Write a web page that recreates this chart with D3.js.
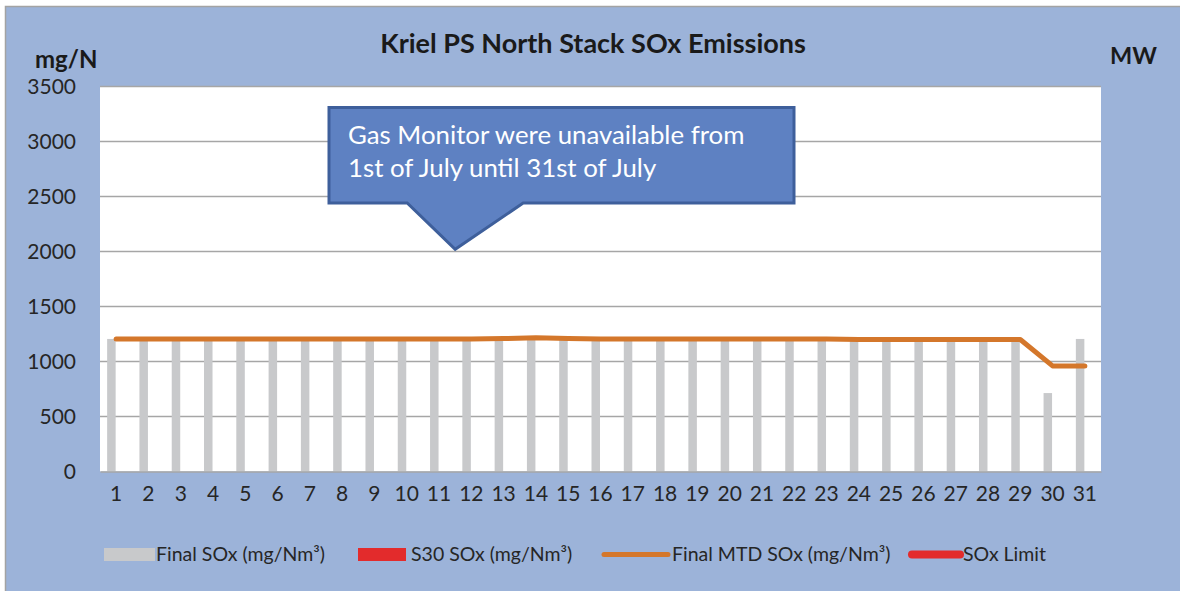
<!DOCTYPE html>
<html>
<head>
<meta charset="utf-8">
<script src="https://cdn.jsdelivr.net/npm/d3@7"></script>
<style>
  body { margin: 0; background: #fff; }
  svg { display: block; font-family: Lato, "Open Sans", sans-serif; }
</style>
</head>
<body>
<svg id="chart" width="1180" height="591"></svg>
<script>
// chart data
var days = d3.range(1, 32).map(String);
var finalSox = [1205, 1195, 1195, 1195, 1195, 1195, 1195, 1195, 1195, 1195,
                1195, 1195, 1195, 1195, 1195, 1195, 1195, 1195, 1195, 1195,
                1195, 1195, 1195, 1195, 1195, 1195, 1195, 1195, 1195, 713, 1205];
var s30Sox = days.map(function () { return null; });   // no S30 values shown
var mtdSox = [1205, 1205, 1205, 1205, 1205, 1205, 1205, 1205, 1205, 1205,
              1205, 1205, 1208, 1215, 1208, 1205, 1205, 1205, 1205, 1205,
              1205, 1205, 1205, 1200, 1200, 1200, 1200, 1200, 1200, 960, 960];
var yTicks = [0, 500, 1000, 1500, 2000, 2500, 3000, 3500];
var legendLabels = ["Final SOx (mg/Nm\u00b3)", "S30 SOx (mg/Nm\u00b3)", "Final MTD SOx (mg/Nm\u00b3)", "SOx Limit"];
var noteLines = ["Gas Monitor were unavailable from", "1st of July until 31st of July"];

var svg = d3.select("#chart");

// set the dimensions of the plot area
var plot = {left: 100, right: 1101, top: 86.5, bottom: 471.5};

var x = d3.scaleBand()
  .domain(days)
  .range([plot.left, plot.right])
  .padding(0);

var y = d3.scaleLinear()
  .domain([0, 3500])
  .range([plot.bottom, plot.top]);

// outer panel
svg.append("rect")
  .attr("x", 5.5).attr("y", 6.5)
  .attr("width", 1180).attr("height", 590)
  .attr("fill", "#9cb3d9")
  .attr("stroke", "#a3a3a3")
  .attr("stroke-width", 1.5);

// white plot area
svg.append("rect")
  .attr("x", plot.left).attr("y", y(3500))
  .attr("width", plot.right - plot.left)
  .attr("height", y(0) - y(3500))
  .attr("fill", "#fff");

// grid lines
svg.append("g")
  .selectAll("line")
  .data(yTicks.slice(1))
  .enter()
  .append("line")
  .attr("x1", plot.left).attr("x2", plot.right)
  .attr("y1", function (d) { return y(d); })
  .attr("y2", function (d) { return y(d); })
  .attr("stroke", "#a6a6a6")
  .attr("stroke-width", 1.3);

// bars (clustered: Final SOx left, S30 right)
var barW = 8.5;
svg.append("g")
  .selectAll("rect")
  .data(finalSox)
  .enter()
  .append("rect")
  .attr("x", function (d, i) { return x(days[i]) + x.bandwidth() / 2 - barW - 0.5; })
  .attr("y", function (d) { return y(d); })
  .attr("width", barW)
  .attr("height", function (d) { return y(0) - y(d); })
  .attr("fill", "#c8c9cb");

svg.append("g")
  .selectAll("rect")
  .data(s30Sox.filter(function (d) { return d != null; }))
  .enter()
  .append("rect")
  .attr("x", function (d, i) { return x(days[i]) + x.bandwidth() / 2; })
  .attr("y", function (d) { return y(d); })
  .attr("width", barW)
  .attr("height", function (d) { return y(0) - y(d); })
  .attr("fill", "#e32b2c");

// MTD line
svg.append("path")
  .datum(mtdSox)
  .attr("fill", "none")
  .attr("stroke", "#d4772b")
  .attr("stroke-width", 5)
  .attr("stroke-linecap", "round")
  .attr("stroke-linejoin", "round")
  .attr("d", d3.line()
    .x(function (d, i) { return x(days[i]) + x.bandwidth() / 2; })
    .y(function (d) { return y(d); }));

// x axis
var xAxis = svg.append("g")
  .attr("transform", "translate(0," + plot.bottom + ")")
  .call(d3.axisBottom(x).tickSize(0).tickPadding(15));
xAxis.select(".domain").attr("stroke", "#a6a6a6").attr("stroke-width", 1.5);
xAxis.selectAll("text")
  .style("font-family", "Lato")
  .style("font-size", "21px")
  .attr("fill", "#262626");

// y axis
var yAxis = svg.append("g")
  .attr("transform", "translate(" + plot.left + ",0)")
  .call(d3.axisLeft(y).tickValues(yTicks).tickFormat(d3.format("d")).tickSize(0).tickPadding(24));
yAxis.select(".domain").remove();
yAxis.selectAll("text")
  .style("font-family", "Lato")
  .style("font-size", "21px")
  .attr("fill", "#262626");

// titles
svg.append("text")
  .attr("x", 593).attr("y", 53)
  .attr("text-anchor", "middle")
  .style("font-size", "27px")
  .style("font-weight", "bold")
  .attr("fill", "#1a1a1a")
  .text("Kriel PS North Stack SOx Emissions");

svg.append("text")
  .attr("x", 35).attr("y", 68)
  .style("font-size", "24px")
  .style("font-weight", "bold")
  .attr("fill", "#1a1a1a")
  .text("mg/N");

svg.append("text")
  .attr("x", 1110).attr("y", 64)
  .style("font-size", "23.5px")
  .style("font-weight", "bold")
  .attr("fill", "#1a1a1a")
  .text("MW");

// callout, pointing between day 11 and 12
var tipX = x("12"), tipY = y(2020);
var box = {x0: 329, x1: 794, y0: 107.5, y1: 203};
svg.append("path")
  .attr("d", "M" + box.x0 + "," + box.y0 + "H" + box.x1 + "V" + box.y1 +
    "H" + (tipX + 68) + "L" + tipX + "," + tipY + "L" + (tipX - 48) + "," + box.y1 +
    "H" + box.x0 + "Z")
  .attr("fill", "#5e81c2")
  .attr("stroke", "#3e5f9b")
  .attr("stroke-width", 3)
  .attr("stroke-linejoin", "miter");

svg.append("g")
  .selectAll("text")
  .data(noteLines)
  .enter()
  .append("text")
  .attr("x", 348)
  .attr("y", function (d, i) { return 144 + i * 33; })
  .style("font-size", "25.8px")
  .attr("fill", "#fff")
  .text(function (d) { return d; });

// legend
var legend = [
  {sx: 104, sw: 51, tx: 156, type: "rect", color: "#c8c9cb"},
  {sx: 358, sw: 48, tx: 411, type: "rect", color: "#e32b2c"},
  {sx: 604, sw: 64, tx: 672, type: "line", color: "#d4772b", w: 5},
  {sx: 912, sw: 48, tx: 963, type: "line", color: "#e32b2c", w: 8}
];
var lg = svg.append("g");
legend.forEach(function (d, i) {
  if (d.type == "rect") {
    lg.append("rect")
      .attr("x", d.sx).attr("y", 548)
      .attr("width", d.sw).attr("height", 13)
      .attr("fill", d.color);
  } else {
    lg.append("line")
      .attr("x1", d.sx).attr("x2", d.sx + d.sw)
      .attr("y1", 554.5).attr("y2", 554.5)
      .attr("stroke", d.color)
      .attr("stroke-width", d.w)
      .attr("stroke-linecap", "round");
  }
  lg.append("text")
    .attr("x", d.tx).attr("y", 561)
    .style("font-size", "19.5px")
    .attr("fill", "#262626")
    .text(legendLabels[i]);
});
</script>
</body>
</html>
